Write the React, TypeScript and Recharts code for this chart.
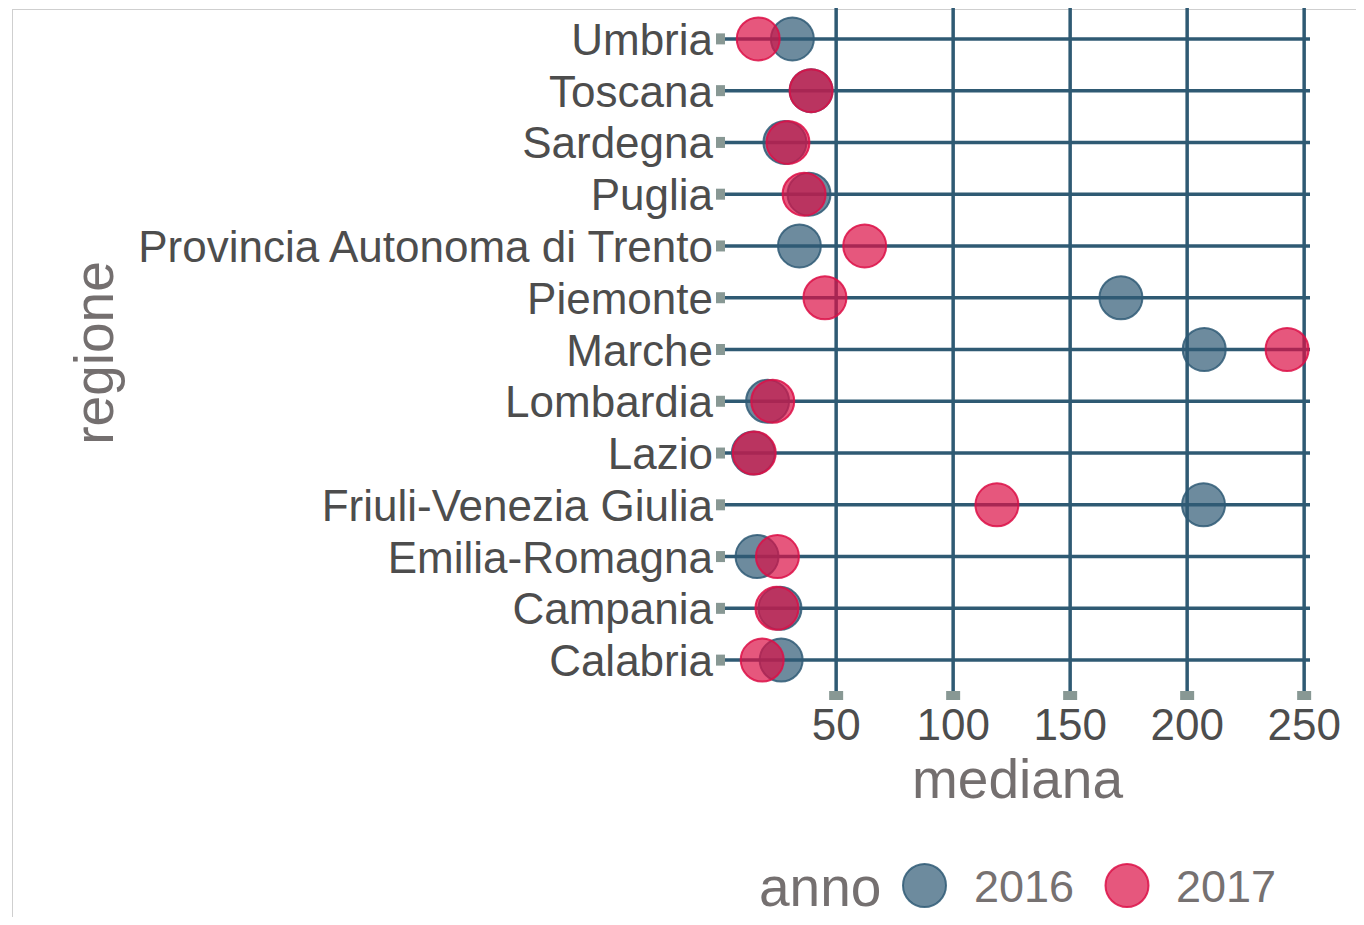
import React from 'react';
import { ScatterChart, Scatter, XAxis, YAxis, CartesianGrid, Legend } from 'recharts';

// regions in ggplot's alphabetical order (first one ends up at the bottom)
const regioni = [
  'Calabria',
  'Campania',
  'Emilia-Romagna',
  'Friuli-Venezia Giulia',
  'Lazio',
  'Lombardia',
  'Marche',
  'Piemonte',
  'Provincia Autonoma di Trento',
  'Puglia',
  'Sardegna',
  'Toscana',
  'Umbria',
];
const mediana2016 = [26.5, 26, 16.2, 207, 14.6, 20.7, 207.3, 171.7, 34.3, 38.4, 28.1, 39.3, 31.3];
const mediana2017 = [18.4, 24.7, 24.9, 118.7, 15, 22.9, 242.7, 45.2, 62.2, 36.3, 29.4, 39.3, 16.7];
const xTicks = [50, 100, 150, 200, 250];
const anni = ['2016', '2017'];

const data2016 = regioni.map((r, i) => ({ regione: r, mediana: mediana2016[i] }));
const data2017 = regioni.map((r, i) => ({ regione: r, mediana: mediana2017[i] }));

const FONT = '"Liberation Sans", Arial, Helvetica, sans-serif';
const GRID = '#2f5a73';
const TICK = '#889894';
const C16 = '#2f5a75';
const C17 = '#dc0f46';

const XTick = ({ x, y, payload }: any) => (
  <g>
    <rect x={x - 7} y={y} width={14} height={9} fill={TICK} />
    <text x={x} y={y + 49} textAnchor="middle" fontSize={44} fill="#4d4d4d" fontFamily={FONT}>
      {payload.value}
    </text>
  </g>
);

const YTick = ({ x, y, payload }: any) => (
  <g>
    <rect x={x - 9} y={y - 5.5} width={9} height={11} fill={TICK} />
    <text x={x - 12} y={y + 16} textAnchor="end" fontSize={44} fill="#4d4d4d" fontFamily={FONT}>
      {payload.value}
    </text>
  </g>
);

const dot = (color: string) => (props: any) => (
  <circle
    cx={props.cx}
    cy={props.cy}
    r={21.5}
    fill={color}
    fillOpacity={0.7}
    stroke={color}
    strokeOpacity={0.85}
    strokeWidth={2}
  />
);

const LegendBox = () => (
  <svg width={560} height={70} style={{ display: 'block', overflow: 'visible' }}>
    <text x={9} y={48} fontSize={55} fill="#757070" fontFamily={FONT}>anno</text>
    <circle cx={174.5} cy={27.5} r={21.5} fill={C16} fillOpacity={0.7} stroke={C16} strokeOpacity={0.85} strokeWidth={2} />
    <text x={224} y={44} fontSize={45} fill="#767171" fontFamily={FONT}>{anni[0]}</text>
    <circle cx={377} cy={27.5} r={21.5} fill={C17} fillOpacity={0.7} stroke={C17} strokeOpacity={0.85} strokeWidth={2} />
    <text x={426} y={44} fontSize={45} fill="#767171" fontFamily={FONT}>{anni[1]}</text>
  </svg>
);

export default function App() {
  return (
    <div style={{ position: 'relative', width: 1356, height: 909 }}>
      <div
        style={{
          position: 'absolute',
          left: 4,
          top: 1,
          width: 1352,
          height: 908,
          boxSizing: 'border-box',
          borderTop: '1px solid #cfcfcf',
          borderLeft: '1px solid #cfcfcf',
        }}
      />
      <ScatterChart width={1356} height={909} margin={{ top: 0, right: 54, bottom: 166, left: 617 }}>
        <CartesianGrid stroke={GRID} strokeWidth={3.5} syncWithTicks />
        <XAxis
          type="number"
          dataKey="mediana"
          domain={[2.5, 252.5]}
          ticks={xTicks}
          allowDataOverflow
          height={60}
          axisLine={false}
          tickLine={false}
          tickSize={0}
          tickMargin={0}
          tick={<XTick />}
          label={{
            content: ({ viewBox }: any) => (
              <text
                x={viewBox.x + viewBox.width / 2}
                y={viewBox.y + 107}
                textAnchor="middle"
                fontSize={55}
                fill="#746f6f"
                fontFamily={FONT}
              >
                mediana
              </text>
            ),
          }}
        />
        <YAxis
          type="category"
          dataKey="regione"
          allowDuplicatedCategory={false}
          padding={{ top: 5, bottom: 5 }}
          width={100}
          axisLine={false}
          tickLine={false}
          tickSize={0}
          tickMargin={0}
          interval={0}
          tick={<YTick />}
          label={{
            content: ({ viewBox }: any) => {
              const cx = viewBox.x - 512;
              const cy = viewBox.y + viewBox.height / 2 + 3.5;
              return (
                <text
                  x={cx}
                  y={cy}
                  transform={`rotate(-90 ${cx} ${cy})`}
                  textAnchor="middle"
                  fontSize={55}
                  fill="#746f6f"
                  fontFamily={FONT}
                >
                  regione
                </text>
              );
            },
          }}
        />
        <Legend
          verticalAlign="middle"
          align="center"
          content={<LegendBox />}
          wrapperStyle={{ position: 'absolute', left: 742, top: 850, width: 560, height: 70 }}
        />
        <Scatter name="2016" data={data2016} fill={C16} shape={dot(C16)} isAnimationActive={false} />
        <Scatter name="2017" data={data2017} fill={C17} shape={dot(C17)} isAnimationActive={false} />
      </ScatterChart>
    </div>
  );
}
